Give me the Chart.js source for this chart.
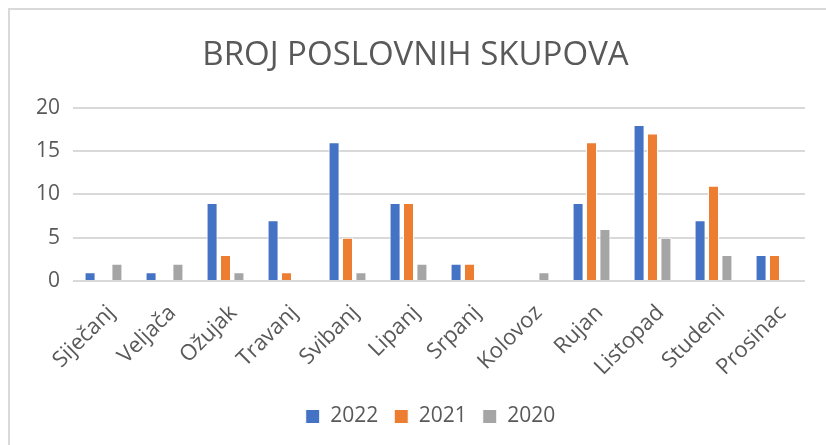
<!DOCTYPE html>
<html>
<head>
<meta charset="utf-8">
<script src="https://cdn.jsdelivr.net/npm/chart.js@4"></script>
<style>
  html, body { margin: 0; padding: 0; background: #fff; }
  #wrap { position: relative; width: 826px; height: 445px; overflow: hidden; }
  #okvir { position: absolute; left: 8px; top: 8px; width: 830px; height: 450px;
           border-left: 2px solid #d9d9d9; border-top: 2px solid #d9d9d9; }
  canvas { position: absolute; left: 0; top: 0; }
</style>
</head>
<body>
<div id="wrap">
  <div id="okvir"></div>
  <canvas id="miGrafica" width="826" height="445"></canvas>
</div>
<script>
// mjeseci i broj skupova po godinama
const mjeseci = ["Siječanj", "Veljača", "Ožujak", "Travanj", "Svibanj", "Lipanj",
                 "Srpanj", "Kolovoz", "Rujan", "Listopad", "Studeni", "Prosinac"];
const god2022 = [1, 1, 9, 7, 16, 9, 2, 0, 9, 18, 7, 3];
const god2021 = [0, 0, 3, 1, 5, 9, 2, 0, 16, 17, 11, 3];
const god2020 = [2, 2, 1, 0, 1, 2, 0, 1, 6, 5, 3, 0];
const yTicks = [0, 5, 10, 15, 20];

const font = "'Open Sans', 'Noto Sans', sans-serif";

// legenda malo udesno, kao u originalu
const pomakLegende = {
    id: "pomakLegende",
    afterLayout(c) {
        c.legend.left += 15;
        c.legend.right += 15;
    }
};

let micanvas = document.getElementById("miGrafica").getContext("2d");
let chart = new Chart(micanvas, {
    type: "bar",
    data: {
        labels: mjeseci,
        datasets: [
            { label: "2022", data: god2022, backgroundColor: "#4472c4" },
            { label: "2021", data: god2021, backgroundColor: "#ed7d31" },
            { label: "2020", data: god2020, backgroundColor: "#a5a5a5" }
        ]
    },
    plugins: [pomakLegende],
    options: {
        responsive: false,
        animation: false,
        datasets: {
            bar: {
                categoryPercentage: 0.66,
                barPercentage: 0.82,
                borderColor: "#ffffff",
                borderWidth: 1,
                borderSkipped: "bottom"
            }
        },
        layout: { padding: { left: 26, right: 21, top: 8, bottom: 8 } },
        scales: {
            x: {
                grid: { display: false },
                border: { display: false },
                ticks: {
                    color: "#595959",
                    font: { family: font, size: 22 },
                    minRotation: 45,
                    maxRotation: 45,
                    padding: 11,
                    labelOffset: 8
                },
                afterFit: (s) => { s.paddingLeft = 0; s.paddingRight = 0; s.height = 109; }
            },
            y: {
                min: 0,
                max: 20,
                afterBuildTicks: (axis) => { axis.ticks = yTicks.map(v => ({ value: v })); },
                afterFit: (s) => { s.width = 47; },
                grid: { color: "#d9d9d9", lineWidth: 2, drawTicks: false },
                border: { display: false },
                ticks: {
                    color: "#595959",
                    font: { family: font, size: 21 },
                    padding: 13
                }
            }
        },
        plugins: {
            title: {
                display: true,
                text: "BROJ POSLOVNIH SKUPOVA",
                color: "#595959",
                font: { family: font, size: 33, weight: "normal" },
                padding: { top: 28, bottom: 32 }
            },
            legend: {
                position: "bottom",
                labels: {
                    color: "#595959",
                    font: { family: font, size: 21 },
                    boxWidth: 14,
                    boxHeight: 14,
                    padding: 16
                }
            },
            tooltip: { enabled: false }
        }
    }
});
</script>
</body>
</html>
